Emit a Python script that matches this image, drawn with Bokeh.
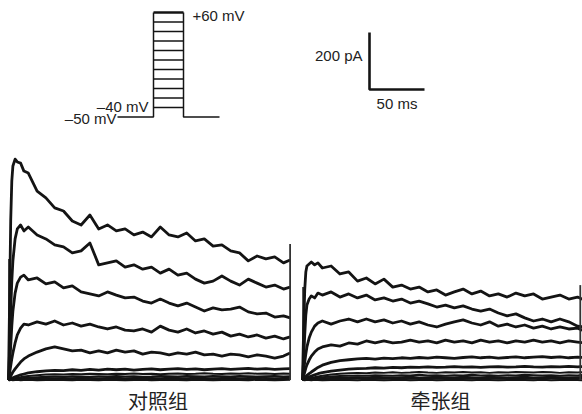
from bokeh.plotting import figure
from bokeh.models import Range1d, Label
from bokeh.embed import file_html
from bokeh.resources import INLINE

# ---------------- data ----------------
# sampling times of the current traces (ms after step onset)
t_ms = [0, 1, 2, 3, 4, 6, 8, 11, 14, 18, 26, 34, 42, 50, 58, 66, 74, 82, 90, 98,
        106, 114, 122, 130, 138, 146, 154, 162, 170, 178, 186, 194, 202, 210, 218,
        226, 234, 242, 250, 256]

step_mv = [60, 50, 40, 30, 20, 10, 0, -10, -20, -30, -40]
hold_mv = -50

# control group currents (pA), one list per test potential
ctrl_p60 = [0, 277, 558, 698, 751, 775, 765, 761, 733, 726, 663, 639, 604, 593, 558, 544, 579, 530, 544, 523,
            530, 509, 519, 502, 537, 509, 502, 516, 488, 495, 470, 474, 453, 446, 418, 435, 425, 432, 411, 421]
ctrl_p50 = [0, 102, 242, 347, 418, 495, 530, 544, 523, 537, 509, 495, 474, 467, 446, 453, 481, 404, 411, 418,
            396, 404, 389, 396, 375, 389, 368, 375, 354, 340, 347, 365, 347, 333, 354, 340, 326, 333, 319, 326]
ctrl_p40 = [0, 49, 119, 189, 242, 305, 340, 361, 368, 351, 358, 337, 344, 323, 330, 309, 302, 295, 309, 298,
            288, 291, 277, 270, 284, 270, 260, 270, 256, 242, 253, 246, 249, 256, 239, 232, 235, 221, 225, 218]
ctrl_p30 = [0, 25, 49, 74, 95, 130, 158, 182, 196, 193, 204, 196, 207, 193, 200, 189, 196, 186, 179, 186,
            175, 172, 179, 168, 189, 175, 168, 179, 165, 172, 161, 168, 154, 161, 151, 158, 147, 154, 144, 151]
ctrl_p20 = [0, 7, 14, 21, 28, 39, 49, 63, 74, 84, 98, 109, 116, 109, 102, 105, 95, 102, 95, 105,
            98, 102, 91, 98, 95, 88, 95, 91, 98, 88, 91, 84, 91, 88, 81, 88, 84, 77, 84, 95]
ctrl_p10 = [0, 2, 4, 6, 8, 11, 14, 18, 21, 25, 29, 32, 34, 33, 36, 34, 37, 35, 38, 36,
            38, 35, 37, 39, 36, 38, 40, 37, 39, 36, 38, 40, 37, 39, 41, 38, 40, 37, 39, 40]
ctrl_p0 = [0, 1, 2, 3, 4, 6, 8, 10, 12, 14, 17, 19, 20, 19, 21, 20, 22, 21, 20, 22,
           21, 23, 21, 22, 20, 22, 23, 21, 22, 24, 22, 21, 23, 22, 24, 22, 23, 21, 23, 22]
ctrl_m10 = [0, 1, 1, 2, 3, 4, 5, 6, 7, 8, 10, 11, 12, 11, 13, 12, 11, 13, 12, 14,
            12, 13, 11, 12, 14, 13, 12, 14, 13, 12, 14, 13, 12, 14, 13, 12, 13, 14, 12, 13]
ctrl_m20 = [0, 0, 1, 1, 1, 2, 2, 3, 4, 5, 6, 7, 6, 7, 6, 8, 7, 6, 7, 8,
            6, 7, 8, 7, 6, 8, 7, 6, 8, 7, 6, 7, 8, 6, 7, 8, 7, 6, 7, 8]
ctrl_m30 = [0, 0, 0, 1, 1, 1, 2, 2, 2, 3, 3, 4, 3, 2, 4, 3, 4, 2, 3, 4,
            3, 2, 4, 3, 4, 2, 3, 4, 3, 2, 4, 3, 2, 4, 3, 4, 2, 3, 4, 3]
ctrl_m40 = [0, -1, 1, 0, -1, 0, 1, -1, 0, 1, -1, 0, 1, 0, -1, 1, 0, -1, 1, 0,
            -1, 0, 1, -1, 0, 1, 0, -1, 1, 0, -1, 0, 1, 0, -1, 1, 0, -1, 0, 1]

# stretch group currents (pA)
str_p60 = [0, 175, 316, 379, 400, 407, 414, 404, 411, 393, 400, 372, 379, 347, 358, 337, 354, 326, 333, 319,
           326, 309, 316, 298, 309, 319, 302, 312, 295, 302, 291, 305, 295, 302, 284, 291, 298, 284, 291, 281]
str_p50 = [0, 70, 158, 228, 263, 284, 295, 288, 305, 298, 309, 291, 302, 288, 298, 281, 288, 277, 284, 270,
           277, 267, 256, 263, 253, 260, 249, 242, 249, 235, 225, 232, 218, 207, 214, 204, 214, 204, 189, 186]
str_p40 = [0, 35, 63, 91, 116, 147, 168, 189, 200, 207, 196, 207, 214, 204, 214, 204, 211, 200, 207, 196,
           204, 193, 186, 196, 204, 211, 200, 193, 204, 189, 196, 186, 193, 182, 189, 179, 186, 179, 182, 172]
str_p30 = [0, 14, 28, 42, 53, 70, 84, 98, 109, 116, 123, 119, 130, 126, 137, 130, 137, 130, 133, 140,
           133, 137, 130, 140, 133, 137, 130, 140, 133, 137, 130, 137, 133, 140, 133, 137, 130, 137, 133, 130]
str_p20 = [0, 4, 8, 12, 16, 22, 28, 36, 44, 52, 62, 68, 71, 74, 76, 73, 77, 75, 78, 76,
           79, 77, 80, 78, 76, 79, 81, 78, 80, 77, 79, 81, 78, 80, 82, 79, 81, 78, 80, 79]
str_p10 = [0, 2, 4, 6, 8, 11, 14, 18, 22, 26, 31, 35, 38, 40, 41, 43, 42, 44, 43, 45,
           44, 46, 44, 45, 47, 45, 46, 44, 46, 47, 45, 46, 48, 46, 45, 47, 46, 48, 46, 47]
str_p0 = [0, 1, 2, 3, 4, 6, 8, 10, 12, 15, 19, 22, 24, 25, 24, 26, 25, 27, 25, 26,
          28, 26, 25, 27, 26, 28, 26, 27, 25, 27, 26, 28, 27, 26, 28, 27, 25, 27, 26, 28]
str_m10 = [0, 1, 1, 2, 3, 4, 5, 7, 8, 10, 12, 14, 15, 16, 15, 17, 16, 15, 17, 16,
           18, 16, 17, 15, 17, 16, 18, 16, 17, 15, 17, 16, 18, 17, 16, 17, 15, 17, 16, 18]
str_m20 = [0, 0, 1, 1, 2, 2, 3, 4, 5, 6, 7, 8, 9, 10, 9, 11, 10, 9, 10, 11,
           9, 10, 11, 10, 9, 11, 10, 9, 11, 10, 9, 10, 11, 9, 10, 11, 10, 9, 10, 11]
str_m30 = [0, 0, 0, 1, 1, 1, 2, 2, 3, 3, 4, 5, 4, 5, 6, 5, 4, 6, 5, 4,
           5, 6, 4, 5, 6, 5, 4, 5, 6, 4, 5, 6, 5, 4, 6, 5, 4, 5, 6, 5]
str_m40 = [0, 1, -1, 0, 1, 0, -1, 1, 0, -1, 0, 1, 0, -1, 1, 0, -1, 0, 1, -1,
           0, 1, -1, 0, 1, 0, -1, 1, 0, -1, 0, 1, 0, -1, 1, -1, 0, 1, 0, -1]

# capacitive transients (ms, pA)
ctrl_on_t, ctrl_on_pa = 0.5, 425
ctrl_off_t, ctrl_off_pa = 256, 477
str_on_t, str_on_pa = 0.5, 326
str_off_t, str_off_pa = 252.5, 333

# stimulus protocol (schematic, ms)
pre_ms, step_ms, post_ms = 300, 250, 300

# scale bar
bar_pa, bar_ms = 200, 50

ctrl_traces = [ctrl_p60, ctrl_p50, ctrl_p40, ctrl_p30, ctrl_p20, ctrl_p10,
               ctrl_p0, ctrl_m10, ctrl_m20, ctrl_m30, ctrl_m40]
str_traces = [str_p60, str_p50, str_p40, str_p30, str_p20, str_p10,
              str_p0, str_m10, str_m20, str_m30, str_m40]

# ---------------- layout ----------------
W, H = 582, 414
PX_PER_MS = 1.1
PX_PER_PA = 0.285
X_LEFT = -8 / PX_PER_MS      # control step onset 8 px from the left
BASE_Y = 379.5               # baseline, px from canvas top
STRETCH_X0 = 267.3           # ms offset of second panel
STIM_PX_PER_MS = 0.12
STIM_X0_PX = 117.0
PX_PER_MV = 0.95
STIM_TOP_PX = 12.0

x_rng = Range1d(X_LEFT, X_LEFT + W / PX_PER_MS)
y_rng = Range1d(-(H - BASE_Y) / PX_PER_PA, BASE_Y / PX_PER_PA)

p = figure(width=W, height=H, x_range=x_rng, y_range=y_rng,
           output_backend="svg", toolbar_location=None, min_border=0,
           x_axis_type=None, y_axis_type=None, background_fill_color="white",
           border_fill_color="white")
p.outline_line_color = None
p.grid.visible = False

s_start = -STIM_X0_PX / STIM_PX_PER_MS
mv_end = step_mv[0] + STIM_TOP_PX / PX_PER_MV
p.extra_x_ranges = {"stim": Range1d(s_start, s_start + W / STIM_PX_PER_MS)}
p.extra_y_ranges = {"mv": Range1d(mv_end - H / PX_PER_MV, mv_end)}

INK = "#141414"
FONT = "Liberation Sans"

# ---- stimulus diagram ----
t_on = pre_ms
t_off = pre_ms + step_ms
for i, lvl in enumerate(step_mv):
    p.line([t_on, t_off], [lvl, lvl], x_range_name="stim", y_range_name="mv",
           line_color=INK, line_width=2.6 if i == 0 else 1.4)
p.line([0, t_on, t_on], [hold_mv, hold_mv, step_mv[0]], x_range_name="stim",
       y_range_name="mv", line_color=INK, line_width=1.5)
p.line([t_off, t_off, t_off + post_ms], [step_mv[0], hold_mv, hold_mv],
       x_range_name="stim", y_range_name="mv", line_color=INK, line_width=1.5)

def stim_label(text, x, y, align):
    p.add_layout(Label(x=x, y=y, text=text, x_range_name="stim", y_range_name="mv",
                       text_font=FONT, text_font_size="15px", text_color="#222",
                       text_align=align, text_baseline="middle"))

stim_label("+60 mV", t_off + 9 / STIM_PX_PER_MS, step_mv[0] - 3 / PX_PER_MV, "left")
stim_label("\u201340 mV", t_on - 5 / STIM_PX_PER_MS, step_mv[-1] + 1, "right")
stim_label("\u201350 mV", -1 / STIM_PX_PER_MS, hold_mv - 1.5 / PX_PER_MV, "right")

# ---- scale bar ----
SB_X = (369 - 8) / PX_PER_MS
SB_Y = (BASE_Y - 89) / PX_PER_PA
p.line([SB_X, SB_X, SB_X + bar_ms], [SB_Y + bar_pa, SB_Y, SB_Y],
       line_color=INK, line_width=2.6)
p.add_layout(Label(x=SB_X - 7 / PX_PER_MS, y=SB_Y + bar_pa * 0.6, text=f"{bar_pa} pA",
                   text_font=FONT, text_font_size="15px", text_color="#222",
                   text_align="right", text_baseline="middle"))
p.add_layout(Label(x=SB_X + bar_ms / 2, y=SB_Y - 14 / PX_PER_PA, text=f"{bar_ms} ms",
                   text_font=FONT, text_font_size="15px", text_color="#222",
                   text_align="center", text_baseline="middle"))

# ---- current traces ----
def draw_panel(x0, traces, on_t, on_pa, off_t, off_pa):
    xs = [x0 + t for t in t_ms]
    for i, tr in enumerate(traces):
        p.line(xs, tr, line_color=INK, line_width=2.8 if i < 6 else 2.0,
               line_join="round")
    p.line([x0 + on_t, x0 + on_t], [0, on_pa], line_color=INK, line_width=1.6)
    p.line([x0 + off_t, x0 + off_t], [0, off_pa], line_color="#333", line_width=1.8)

draw_panel(0, ctrl_traces, ctrl_on_t, ctrl_on_pa, ctrl_off_t, ctrl_off_pa)
draw_panel(STRETCH_X0, str_traces, str_on_t, str_on_pa, str_off_t, str_off_pa)

LAB_Y = (BASE_Y - 400) / PX_PER_PA
p.add_layout(Label(x=(157.5 - 8) / PX_PER_MS, y=LAB_Y, text="对照组", text_font="Noto Sans CJK SC",
                   text_font_size="20px", text_color="#222", text_align="center",
                   text_baseline="middle"))
p.add_layout(Label(x=STRETCH_X0 + 125.4, y=LAB_Y, text="牵张组", text_font="Noto Sans CJK SC",
                   text_font_size="20px", text_color="#222", text_align="center",
                   text_baseline="middle"))

open("out.html", "w").write(file_html(p, INLINE))
